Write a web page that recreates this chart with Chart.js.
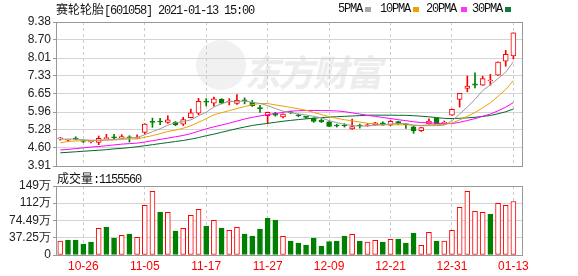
<!DOCTYPE html>
<html><head><meta charset="utf-8">
<script src="https://cdn.jsdelivr.net/npm/chart.js@4.4.1/dist/chart.umd.min.js"></script>
<style>
html,body{margin:0;padding:0;background:#fff;overflow:hidden;}
#wrap{position:relative;width:578px;height:276px;overflow:hidden;}
canvas{position:absolute;left:0;}
.t{position:absolute;font-family:"Liberation Mono","DejaVu Sans Mono",monospace;font-size:12px;letter-spacing:-1.2px;color:#111;white-space:nowrap;line-height:14px;}
.cjk{font-family:"Noto Sans CJK SC",sans-serif;letter-spacing:0;}
.sq{position:absolute;width:6px;height:5px;}
.wm{position:absolute;left:248px;top:50px;font-family:"Noto Sans CJK SC",sans-serif;font-weight:bold;font-size:36px;line-height:40px;color:#ededed;transform:skewX(-12deg);letter-spacing:-2px;}
.logo{position:absolute;left:196px;top:40px;width:50px;height:50px;border-radius:50%;background:#f1f1f1;}
</style></head>
<body><div id="wrap">
<div class="logo"></div>
<div class="wm">东方财富</div>
<canvas id="main" width="578" height="180" style="top:0"></canvas>
<canvas id="vol" width="578" height="104" style="top:172px"></canvas>
<div class="t" id="title" style="left:56px;top:2px"></div>
<div id="legend"></div>
<div class="t" id="vlabel" style="left:57px;top:171px"></div>
</div>
<script>
// ---- data ----
const stockName = '赛轮轮胎';
const stockCode = '601058';
const stamp = '2021-01-13 15:00';
const dates = ['10-21','10-22','10-23','10-26','10-27','10-28','10-29','10-30','11-02','11-03','11-04','11-05','11-06','11-09','11-10','11-11','11-12','11-13','11-16','11-17','11-18','11-19','11-20','11-23','11-24','11-25','11-26','11-27','11-30','12-01','12-02','12-03','12-04','12-07','12-08','12-09','12-10','12-11','12-14','12-15','12-16','12-17','12-18','12-21','12-22','12-23','12-24','12-25','12-28','12-29','12-30','12-31','01-04','01-05','01-06','01-07','01-08','01-11','01-12','01-13'];
const labelDates = ['10-26','11-05','11-17','11-27','12-09','12-21','12-31','01-13'];
const opens = [4.94,4.89,4.97,4.86,4.82,4.81,4.95,5.00,4.97,5.00,
 4.97,5.19,5.60,5.60,5.57,5.58,5.50,5.75,5.92,6.36,
 6.30,6.44,6.34,6.29,6.42,6.33,6.12,5.82,5.92,5.77,
 5.95,5.84,5.78,5.72,5.65,5.59,5.45,5.44,5.32,5.45,
 5.43,5.47,5.55,5.46,5.60,5.50,5.40,5.25,5.51,5.72,
 5.53,5.84,6.44,6.86,7.03,6.98,7.14,7.36,7.89,8.09];
const closes = [4.95,4.90,4.93,4.84,4.83,4.96,4.96,4.98,5.03,4.98,
 4.99,5.50,5.57,5.58,5.66,5.47,5.67,5.93,6.37,6.33,
 6.46,6.30,6.35,6.40,6.39,6.20,6.09,5.95,5.84,5.88,
 5.93,5.82,5.76,5.60,5.58,5.41,5.43,5.43,5.41,5.43,
 5.47,5.55,5.47,5.61,5.51,5.47,5.24,5.37,5.62,5.52,
 5.56,6.06,6.67,6.95,6.98,7.23,7.15,7.86,8.15,8.97];
const highs = [4.99,4.91,5.02,4.88,4.84,5.05,5.11,5.11,5.10,5.06,
 5.09,5.52,5.73,5.72,5.82,5.60,5.76,6.07,6.48,6.47,
 6.53,6.47,6.47,6.62,6.50,6.40,6.21,5.96,5.95,5.89,
 5.99,5.88,5.79,5.74,5.70,5.60,5.50,5.52,5.69,5.50,
 5.52,5.57,5.59,5.64,5.61,5.53,5.43,5.38,5.70,5.73,
 5.62,6.07,6.67,7.33,7.45,7.32,7.39,7.87,8.30,8.97];
const lows = [4.89,4.84,4.90,4.80,4.79,4.72,4.95,4.94,4.97,4.82,
 4.96,5.12,5.38,5.48,5.53,5.44,5.45,5.74,5.86,6.19,
 6.18,6.27,6.23,6.25,6.27,6.17,5.95,5.53,5.80,5.74,
 5.90,5.78,5.72,5.57,5.56,5.40,5.39,5.39,5.30,5.35,
 5.42,5.46,5.45,5.44,5.49,5.34,5.15,5.22,5.50,5.50,
 5.52,5.83,6.15,6.73,6.88,6.97,6.98,7.35,7.70,7.98];
const ma5 = [4.93,4.93,4.93,4.91,4.890,4.892,4.904,4.914,4.952,4.982,
 4.988,5.096,5.214,5.324,5.460,5.556,5.590,5.662,5.820,5.954,
 6.152,6.278,6.362,6.368,6.380,6.328,6.286,6.206,6.094,5.992,
 5.938,5.884,5.846,5.798,5.738,5.634,5.556,5.490,5.452,5.422,
 5.434,5.458,5.466,5.506,5.522,5.522,5.460,5.440,5.442,5.444,
 5.462,5.626,5.884,6.150,6.442,6.776,6.994,7.232,7.472,7.870];
const ma10 = [4.79,4.84,4.86,4.87,4.87,4.88,4.89,4.90,4.92,4.936,
 4.940,5.000,5.064,5.138,5.221,5.272,5.343,5.438,5.572,5.707,
 5.854,5.934,6.012,6.094,6.167,6.240,6.282,6.284,6.231,6.186,
 6.133,6.085,6.026,5.946,5.865,5.786,5.720,5.668,5.625,5.580,
 5.534,5.507,5.478,5.479,5.472,5.478,5.459,5.453,5.474,5.483,
 5.492,5.543,5.662,5.796,5.943,6.119,6.310,6.559,6.812,7.157];
const ma20 = [4.52,4.54,4.57,4.60,4.63,4.65,4.68,4.71,4.74,4.76,
 4.78,4.82,4.87,4.92,4.97,5.02,5.07,5.14,5.23,5.322,
 5.397,5.467,5.538,5.616,5.694,5.756,5.813,5.861,5.902,5.947,
 5.994,6.010,6.019,6.020,6.016,6.013,6.001,5.976,5.928,5.883,
 5.834,5.796,5.752,5.713,5.669,5.632,5.590,5.561,5.550,5.532,
 5.513,5.525,5.570,5.638,5.708,5.799,5.885,6.006,6.143,6.320];
const ma30 = [4.41,4.43,4.45,4.47,4.49,4.51,4.53,4.56,4.58,4.61,
 4.64,4.68,4.72,4.76,4.80,4.84,4.88,4.93,4.99,5.06,
 5.12,5.19,5.26,5.33,5.39,5.45,5.49,5.53,5.57,5.610,
 5.642,5.673,5.701,5.726,5.751,5.766,5.782,5.797,5.809,5.824,
 5.840,5.842,5.839,5.840,5.835,5.835,5.820,5.802,5.777,5.750,
 5.720,5.712,5.722,5.740,5.760,5.794,5.830,5.893,5.970,6.073];
const volumes = [302000,324000,324000,238000,281000,576000,605000,367000,425000,453000,
 381000,1073000,1375000,929000,921000,518000,576000,857000,986000,626000,
 749000,583000,533000,597000,453000,410000,561000,792000,756000,403000,
 302000,259000,216000,367000,194000,288000,302000,410000,446000,302000,
 281000,317000,281000,338000,345000,259000,475000,209000,489000,302000,
 302000,533000,1029000,1375000,943000,921000,885000,1116000,1073000,1155560];
const volumeUp = [1,0,0,0,0,1,0,0,1,0, 1,1,1,0,1,0,1,1,1,0, 1,0,1,1,0,0,0,0,0,1,
 0,0,0,0,0,0,0,0,1,0, 1,1,0,1,0,0,0,1,1,0, 1,1,1,1,1,1,0,1,1,1];
const priceTicks = ['9.38','8.70','8.01','7.33','6.65','5.96','5.28','4.60','3.91'];
const volumeTicks = ['149万','112万','74.49万','37.25万','0'];
const maLabels = ['5PMA','10PMA','20PMA','30PMA'];
const maSeries = [ma5, ma10, ma20, ma30];

// ---- styles ----
const RED = '#ff0000', GREEN = '#008000';
const maColors = ['#9a9a9a','#f0a000','#ff00ff','#006a2a'];
const legendColors = ['#a8a8a8','#f0a000','#ff33ff','#107a38'];
const FONT = {family:'"Liberation Sans", Arial, sans-serif', size:12};
const X_MIN = -0.56, X_MAX = 60.12;

// ---- text ----
document.getElementById('title').innerHTML = '<span class="cjk">' + stockName + '</span>[' + stockCode + '] ' + stamp;
const legendX = [338, 380, 426, 472], legendSq = [365, 413, 461, 505];
const lg = document.getElementById('legend');
maLabels.forEach((l, i) => {
  const s = document.createElement('div'); s.className = 't'; s.style.left = legendX[i] + 'px'; s.style.top = '2px'; s.textContent = l; lg.appendChild(s);
  const q = document.createElement('div'); q.className = 'sq'; q.style.left = legendSq[i] + 'px'; q.style.top = '7px'; q.style.background = legendColors[i]; lg.appendChild(q);
});
document.getElementById('vlabel').innerHTML = '<span class="cjk">成交量</span>:' + volumes[volumes.length - 1];

// ---- helpers ----
const tickIdx = labelDates.map(d => dates.indexOf(d));
const up = closes.map((c, i) => c >= opens[i]);
const frame = {
  id: 'frame',
  afterDraw(chart) {
    const a = chart.chartArea, ctx = chart.ctx;
    const al = p => Math.round(p - 0.5) + 0.5;
    ctx.save(); ctx.strokeStyle = '#999'; ctx.lineWidth = 1;
    ctx.strokeRect(al(a.left), al(a.top), al(a.right) - al(a.left), al(a.bottom) - al(a.top));
    ctx.restore();
  }
};
function xScale(showLabels) {
  return {
    type: 'linear', min: X_MIN, max: X_MAX, offset: false,
    grid: {offset: false, color: '#cccccc', drawTicks: false},
    border: {display: false, dash: [3, 3]},
    afterBuildTicks: s => { s.ticks = tickIdx.map(v => ({value: v})); },
    ticks: showLabels ? {display: true, color: RED, font: FONT, padding: 4, maxRotation: 0, autoSkip: false,
      callback: v => dates[v]} : {display: false},
    afterFit: s => { s.height = showLabels ? 21 : 0; }
  };
}
function yScale(labels, min, max) {
  const vals = labels.map(l => parseFloat(l)).sort((a, b) => a - b);
  return {
    min, max,
    afterBuildTicks: s => { s.ticks = vals.map(v => ({value: v})); },
    ticks: {color: '#222', font: FONT, padding: 2, autoSkip: false,
      callback: v => labels.find(l => parseFloat(l) === v)},
    grid: {color: '#d4d4d4', tickLength: 3, tickColor: '#999'},
    border: {display: false},
    afterFit: s => { s.width = 56; }
  };
}
const pt = arr => arr.map((v, i) => ({x: i, y: v}));

new Chart(document.getElementById('main'), {
  type: 'bar',
  data: {datasets: [
    ...maSeries.map((s, k) => ({type: 'line', label: maLabels[k], data: pt(s), borderColor: maColors[k],
      borderWidth: 1, pointRadius: 0, tension: 0, order: 0})),
    {type: 'bar', label: 'body', data: opens.map((o, i) => ({x: i, y: [o, closes[i]]})),
      backgroundColor: up.map(u => u ? '#ffffff' : GREEN), borderColor: up.map(u => u ? RED : GREEN),
      borderWidth: 1, borderSkipped: false, barThickness: 5, minBarLength: 1, grouped: false, order: 1},
    {type: 'bar', label: 'wick', data: lows.map((l, i) => ({x: i, y: [l, highs[i]]})),
      backgroundColor: up.map(u => u ? RED : GREEN), borderWidth: 0, barThickness: 1, grouped: false, order: 2}
  ]},
  options: {
    responsive: false, animation: false, events: [],
    layout: {autoPadding: false, padding: {left: 0, right: 56, top: 22, bottom: 14}},
    plugins: {legend: {display: false}, tooltip: {enabled: false}},
    scales: {x: xScale(false), y: yScale(priceTicks, 3.91, 9.38)}
  },
  plugins: [frame]
});

new Chart(document.getElementById('vol'), {
  type: 'bar',
  data: {datasets: [{label: 'volume', data: volumes.map((v, i) => ({x: i, y: v / 10000})),
    backgroundColor: volumeUp.map(u => u ? '#ffffff' : GREEN), borderColor: volumeUp.map(u => u ? RED : GREEN),
    borderWidth: 1, borderSkipped: false, barThickness: 5, grouped: false}]},
  options: {
    responsive: false, animation: false, events: [],
    layout: {autoPadding: false, padding: {left: 0, right: 56, top: 14, bottom: 0}},
    plugins: {legend: {display: false}, tooltip: {enabled: false}},
    scales: {x: xScale(true), y: yScale(volumeTicks, 0, 149)}
  },
  plugins: [frame]
});
</script>
</body></html>
